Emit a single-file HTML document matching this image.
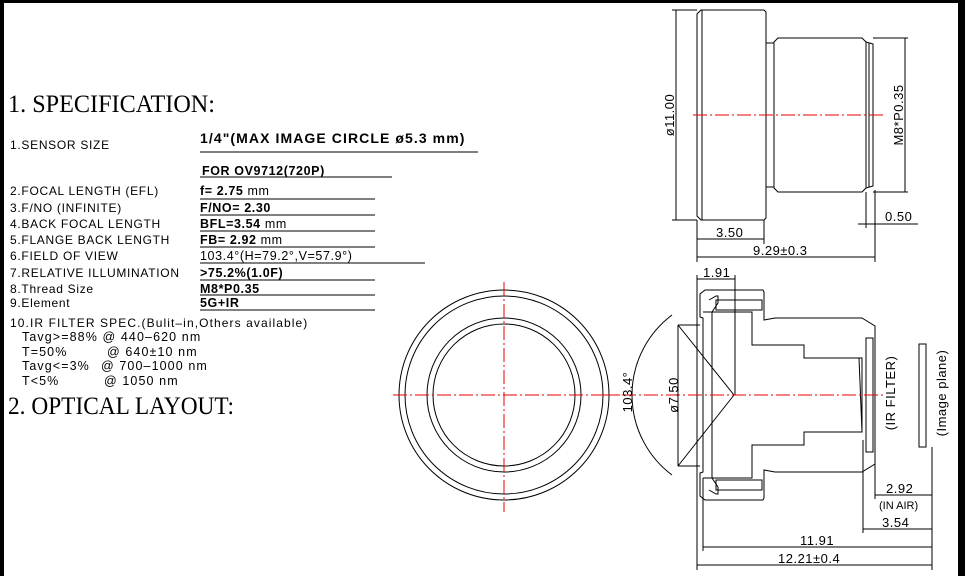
<!DOCTYPE html>
<html><head><meta charset="utf-8"><style>
html,body{margin:0;padding:0;background:#000;}
svg{display:block;}
text{font-family:"Liberation Sans",sans-serif;fill:#000;}
.s{font-size:12px;letter-spacing:0.7px;}
.t{font-size:12.5px;letter-spacing:1.1px;}
.v{font-size:12.5px;font-weight:bold;letter-spacing:0.6px;}
.h{font-family:"Liberation Serif",serif;font-size:25px;}
.d{font-size:13px;letter-spacing:0.5px;}
</style></head><body>
<svg width="965" height="576" viewBox="0 0 965 576" xmlns="http://www.w3.org/2000/svg">
<rect x="0" y="0" width="965" height="576" fill="#000"/>
<rect x="4" y="3" width="954" height="573" fill="#fff"/>

<text class="h" x="8" y="112" textLength="207" lengthAdjust="spacingAndGlyphs">1. SPECIFICATION:</text>
<g class="s">
<text x="10" y="149">1.SENSOR SIZE</text>
<text x="10" y="195">2.FOCAL LENGTH (EFL)</text>
<text x="10" y="212">3.F/NO (INFINITE)</text>
<text x="10" y="228">4.BACK FOCAL LENGTH</text>
<text x="10" y="244">5.FLANGE BACK LENGTH</text>
<text x="10" y="260">6.FIELD OF VIEW</text>
<text x="10" y="277">7.RELATIVE ILLUMINATION</text>
<text x="10" y="293">8.Thread Size</text>
<text x="10" y="307">9.Element</text>
<text x="10" y="327" textLength="298" lengthAdjust="spacing">10.IR FILTER SPEC.(Bulit–in,Others available)</text>
</g>
<g class="t">
<text x="22" y="341">Tavg&gt;=88% @ 440–620 nm</text>
<text x="22" y="356">T=50%</text><text x="107" y="356">@ 640±10 nm</text>
<text x="22" y="370">Tavg&lt;=3%</text><text x="101" y="370">@ 700–1000 nm</text>
<text x="22" y="385">T&lt;5%</text><text x="104" y="385">@ 1050 nm</text>
</g>
<g class="v">
<text x="200" y="143" style="font-size:14px" textLength="265" lengthAdjust="spacing">1/4"(MAX IMAGE CIRCLE ø5.3 mm)</text>
<text x="202" y="175">FOR OV9712(720P)</text>
<text x="200" y="195">f= 2.75 <tspan font-weight="normal">mm</tspan></text>
<text x="200" y="212">F/NO= 2.30</text>
<text x="200" y="228">BFL=3.54 <tspan font-weight="normal">mm</tspan></text>
<text x="200" y="244">FB= 2.92 <tspan font-weight="normal">mm</tspan></text>
<text x="200" y="260" font-weight="normal">103.4°(H=79.2°,V=57.9°)</text>
<text x="200" y="277">&gt;75.2%(1.0F)</text>
<text x="200" y="293">M8*P0.35</text>
<text x="200" y="307">5G+IR</text>
</g>
<g stroke="#000" stroke-width="1">
<line x1="200" y1="152" x2="478" y2="152"/>
<line x1="200" y1="177" x2="392" y2="177"/>
<line x1="200" y1="199" x2="375" y2="199"/>
<line x1="200" y1="215" x2="375" y2="215"/>
<line x1="200" y1="231" x2="375" y2="231"/>
<line x1="200" y1="247" x2="375" y2="247"/>
<line x1="200" y1="263" x2="425" y2="263"/>
<line x1="200" y1="280" x2="375" y2="280"/>
<line x1="200" y1="295" x2="375" y2="295"/>
<line x1="200" y1="310" x2="375" y2="310"/>
</g>
<text class="h" x="8" y="414" textLength="226" lengthAdjust="spacingAndGlyphs">2. OPTICAL LAYOUT:</text>

<g fill="none" stroke="#000" stroke-width="1">
<circle cx="504" cy="395" r="105"/><circle cx="504" cy="395" r="99"/>
<circle cx="504" cy="395" r="77"/><circle cx="504" cy="395" r="71"/>
</g>
<g stroke="#e00" stroke-width="1" stroke-dasharray="14,3,2,3">
<line x1="393" y1="395" x2="620" y2="395"/>
<line x1="504" y1="282" x2="504" y2="512"/>
</g>

<g fill="none" stroke="#000" stroke-width="1">
<path d="M701,10 L764,10 L766,12 L766,218 L764,220 L701,220 L697,216 L697,14 Z"/>
<line x1="702" y1="10" x2="702" y2="220"/>
<path d="M766,43 L774,43 M766,187 L774,187"/>
<path d="M778,38 L862,38 L866,42 L866,188 L862,192 L778,192 L774,188 L774,42 Z"/>
<path d="M866,42 L873,44 L873,186 L866,188"/>
<line x1="869" y1="43" x2="869" y2="187"/>
<line x1="676" y1="10" x2="676" y2="220"/><line x1="672" y1="10" x2="697" y2="10"/><line x1="672" y1="220" x2="697" y2="220"/>
<line x1="905" y1="38" x2="905" y2="192"/><line x1="873" y1="38" x2="908" y2="38"/><line x1="873" y1="192" x2="908" y2="192"/>
<line x1="697" y1="220" x2="697" y2="262"/><line x1="764" y1="220" x2="764" y2="244"/>
<line x1="697" y1="239" x2="764" y2="239"/>
<line x1="875" y1="190" x2="875" y2="262"/><line x1="866" y1="192" x2="866" y2="228"/>
<line x1="697" y1="257" x2="875" y2="257"/>
<line x1="858" y1="224" x2="918" y2="224"/>
</g>
<line x1="693" y1="115" x2="885" y2="115" stroke="#e00" stroke-dasharray="14,3,2,3"/>
<text class="d" transform="translate(674,115) rotate(-90)" text-anchor="middle">ø11.00</text>
<text class="d" transform="translate(903,115) rotate(-90)" text-anchor="middle">M8*P0.35</text>
<text class="d" x="885" y="221">0.50</text>
<text class="d" x="716" y="237">3.50</text>
<text class="d" x="753" y="255">9.29±0.3</text>

<g fill="none" stroke="#000" stroke-width="1">
<path d="M705,290 L763,290 L764,292 L764,320 L775,318 L862,318 L875,326 L875,464 L862,472 L775,472 L764,470 L764,498 L763,500 L705,500 L700,496 L700,473 L703,472 L703,318 L700,317 L700,294 Z"/>
<path d="M709,300 L716,296 L718,296 L718,303 L712,312 L712,478 L718,487 L718,494 L716,494 L709,490"/>
<path d="M716,300 L762,300 L762,310 L716,310 Z"/>
<path d="M716,480 L762,480 L762,490 L716,490 Z"/>
<path d="M703,312 L752,312 L752,345 L804,345 L804,358 L862,358 L862,432 L804,432 L804,445 L752,445 L752,478 L703,478"/>
<line x1="859" y1="358" x2="862" y2="432"/>
<rect x="866" y="338" width="7" height="114"/>
<rect x="919" y="344" width="7" height="103"/>
<path d="M672,315 A100,100 0 0 0 672,475"/>
<line x1="678" y1="325" x2="678" y2="466"/>
<line x1="678" y1="325" x2="734" y2="395"/><line x1="678" y1="466" x2="734" y2="395"/>
<line x1="678" y1="325" x2="700" y2="325"/><line x1="678" y1="466" x2="700" y2="466"/>
<line x1="697" y1="279" x2="735" y2="279"/>
<line x1="697" y1="275" x2="697" y2="570"/><line x1="735" y1="275" x2="735" y2="395"/>
<line x1="703" y1="478" x2="703" y2="551"/>
<line x1="875" y1="464" x2="875" y2="499"/>
<line x1="863" y1="440" x2="863" y2="533"/>
<line x1="932" y1="447" x2="932" y2="570"/>
<line x1="875" y1="495" x2="932" y2="495"/>
<line x1="863" y1="529" x2="932" y2="529"/>
<line x1="703" y1="547" x2="932" y2="547"/>
<line x1="697" y1="565" x2="932" y2="565"/>
</g>
<line x1="600" y1="395" x2="885" y2="395" stroke="#e00" stroke-dasharray="14,3,2,3"/>
<text class="d" x="703" y="277">1.91</text>
<text class="d" transform="translate(632,392) rotate(-90)" text-anchor="middle">103.4°</text>
<text class="d" transform="translate(678,395) rotate(-90)" text-anchor="middle">ø7.50</text>
<text class="d" transform="translate(895,393) rotate(-90)" text-anchor="middle">(IR FILTER)</text>
<text class="d" transform="translate(946,393) rotate(-90)" text-anchor="middle">(Image plane)</text>
<text class="d" x="886" y="493">2.92</text>
<text x="879" y="509" style="font-size:11px">(IN AIR)</text>
<text class="d" x="882" y="527">3.54</text>
<text class="d" x="800" y="545">11.91</text>
<text class="d" x="778" y="563">12.21±0.4</text>
</svg>
</body></html>
